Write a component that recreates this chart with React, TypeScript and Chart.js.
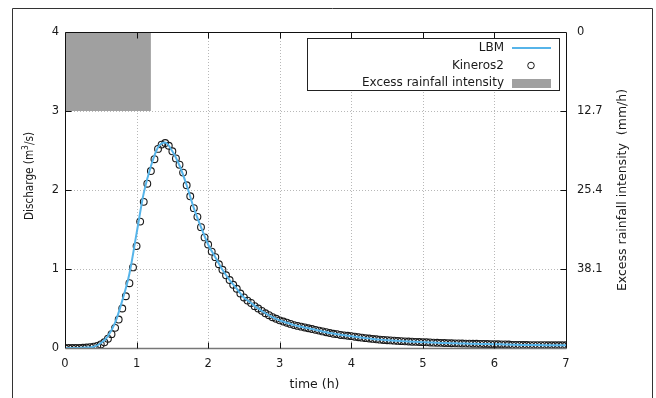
import React, { useEffect, useRef } from 'react';
import { Chart, registerables } from 'chart.js';

Chart.register(...registerables);

// ---------- data ----------
const KINEROS_TIME = [
  0.0, 0.05, 0.1, 0.15, 0.2, 0.25, 0.3, 0.35, 0.4, 0.45, 0.5, 0.55, 0.6, 0.65, 0.7, 0.75, 0.8, 0.85, 0.9, 0.95,
  1.0, 1.05, 1.1, 1.15, 1.2, 1.25, 1.3, 1.35, 1.4, 1.45, 1.5, 1.55, 1.6, 1.65, 1.7, 1.75, 1.8, 1.85, 1.9, 1.95,
  2.0, 2.05, 2.1, 2.15, 2.2, 2.25, 2.3, 2.35, 2.4, 2.45, 2.5, 2.55, 2.6, 2.65, 2.7, 2.75, 2.8, 2.85, 2.9, 2.95,
  3.0, 3.05, 3.1, 3.15, 3.2, 3.25, 3.3, 3.35, 3.4, 3.45, 3.5, 3.55, 3.6, 3.65, 3.7, 3.75, 3.8, 3.85, 3.9, 3.95,
  4.0, 4.05, 4.1, 4.15, 4.2, 4.25, 4.3, 4.35, 4.4, 4.45, 4.5, 4.55, 4.6, 4.65, 4.7, 4.75, 4.8, 4.85, 4.9, 4.95,
  5.0, 5.05, 5.1, 5.15, 5.2, 5.25, 5.3, 5.35, 5.4, 5.45, 5.5, 5.55, 5.6, 5.65, 5.7, 5.75, 5.8, 5.85, 5.9, 5.95,
  6.0, 6.05, 6.1, 6.15, 6.2, 6.25, 6.3, 6.35, 6.4, 6.45, 6.5, 6.55, 6.6, 6.65, 6.7, 6.75, 6.8, 6.85, 6.9, 6.95,
  7.0,
];
const KINEROS_Q = [
  0, 0, 0, 0, 0, 0.003, 0.006, 0.01, 0.017, 0.026, 0.045, 0.072, 0.118, 0.175, 0.255, 0.36, 0.5, 0.655, 0.82, 1.02,
  1.29, 1.6, 1.85, 2.08, 2.24, 2.39, 2.52, 2.575, 2.595, 2.56, 2.49, 2.4, 2.32, 2.22, 2.06, 1.92, 1.77, 1.66, 1.53, 1.4,
  1.31, 1.22, 1.15, 1.06, 0.99, 0.92, 0.86, 0.8, 0.75, 0.69, 0.64, 0.6, 0.57, 0.53, 0.5, 0.47, 0.44, 0.415, 0.39, 0.37,
  0.35, 0.335, 0.32, 0.305, 0.29, 0.28, 0.27, 0.26, 0.25, 0.24, 0.23, 0.22, 0.21, 0.2, 0.19, 0.18, 0.175, 0.165, 0.16, 0.155,
  0.15, 0.143, 0.137, 0.131, 0.125, 0.12, 0.115, 0.11, 0.106, 0.102, 0.099, 0.096, 0.093, 0.09, 0.087, 0.084, 0.082, 0.08, 0.078, 0.076,
  0.074, 0.072, 0.07, 0.068, 0.066, 0.065, 0.063, 0.062, 0.06, 0.059, 0.058, 0.057, 0.056, 0.055, 0.054, 0.053, 0.052, 0.051, 0.05, 0.049,
  0.048, 0.047, 0.046, 0.045, 0.044, 0.04, 0.039, 0.039, 0.038, 0.038, 0.037, 0.037, 0.036, 0.036, 0.036, 0.035, 0.035, 0.035, 0.034, 0.034,
  0.034,
];

const LBM_TIME = [
  0.0, 0.1, 0.2, 0.3, 0.4, 0.5, 0.6, 0.7, 0.8, 0.9,
  1.0, 1.1, 1.2, 1.3, 1.4, 1.5, 1.6, 1.7, 1.8, 1.9,
  2.0, 2.1, 2.2, 2.3, 2.4, 2.5, 2.6, 2.7, 2.8, 2.9,
  3.0, 3.1, 3.2, 3.3, 3.4, 3.5, 3.6, 3.7, 3.8, 3.9,
  4.0, 4.1, 4.2, 4.3, 4.4, 4.5, 4.6, 4.7, 4.8, 4.9,
  5.0, 5.1, 5.2, 5.3, 5.4, 5.5, 5.6, 5.7, 5.8, 5.9,
  6.0, 6.1, 6.2, 6.3, 6.4, 6.5, 6.6, 6.7, 6.8, 6.9,
  7.0,
];
const LBM_Q = [
  0, 0, 0, 0.005, 0.015, 0.06, 0.15, 0.32, 0.6, 0.94,
  1.45, 1.96, 2.3, 2.54, 2.6, 2.49, 2.31, 2.06, 1.77, 1.53,
  1.31, 1.15, 0.99, 0.86, 0.75, 0.64, 0.57, 0.5, 0.44, 0.39,
  0.35, 0.32, 0.29, 0.27, 0.25, 0.23, 0.21, 0.19, 0.175, 0.16,
  0.15, 0.137, 0.125, 0.115, 0.106, 0.099, 0.093, 0.087, 0.082, 0.078,
  0.074, 0.07, 0.066, 0.063, 0.06, 0.058, 0.056, 0.054, 0.052, 0.05,
  0.048, 0.046, 0.044, 0.04, 0.039, 0.038, 0.037, 0.036, 0.035, 0.034,
  0.034,
];

const RAIN_TIME = [0, 1.2];
const RAIN_INTENSITY = [12.7, 12.7];

const X_TICKS = [0, 1, 2, 3, 4, 5, 6, 7];
const Y_TICKS = [0, 1, 2, 3, 4];
const Y2_TICKS = [0, 12.7, 25.4, 38.1];
const Y2_TICK_LABELS = ['0', '12.7', '25.4', '38.1'];
const Y2_MAX = 50.8;

const LEGEND_LABELS = ['LBM', 'Kineros2', 'Excess rainfall intensity'];
const X_TITLE = 'time (h)';
const Y_TITLE_PARTS = ['Discharge (m', '3', '/s)'];
const Y2_TITLE = 'Excess rainfall intensity  (mm/h)';

// ---------- styles ----------
const FONT = '"DejaVu Sans", Verdana, sans-serif';
const LBM_COLOR = '#56b4e9';
const RAIN_COLOR = '#a0a0a0';
const TEXT_COLOR = '#1a1a1a';

const decor = {
  id: 'decor',
  beforeDatasetsDraw(chart: any) {
    const { ctx, chartArea: a, scales } = chart;
    ctx.save();
    ctx.strokeStyle = '#b8b8b8';
    ctx.lineWidth = 1;
    ctx.setLineDash([1, 2]);
    for (const v of X_TICKS) {
      if (v <= scales.x.min || v >= scales.x.max) continue;
      const x = Math.round(scales.x.getPixelForValue(v)) + 0.5;
      ctx.beginPath();
      ctx.moveTo(x, a.top);
      ctx.lineTo(x, a.bottom);
      ctx.stroke();
    }
    for (const v of Y_TICKS) {
      if (v <= scales.y.min || v >= scales.y.max) continue;
      const y = Math.round(scales.y.getPixelForValue(v)) + 0.5;
      ctx.beginPath();
      ctx.moveTo(a.left, y);
      ctx.lineTo(a.right, y);
      ctx.stroke();
    }
    ctx.restore();
  },
  afterDatasetsDraw(chart: any) {
    const { ctx, chartArea: a, scales } = chart;
    const L = Math.round(a.left) + 0.5;
    const R = Math.round(a.right) + 0.5;
    const T = Math.round(a.top) + 0.5;
    const B = Math.round(a.bottom) + 0.5;
    ctx.save();
    ctx.setLineDash([]);
    // plot border
    ctx.lineWidth = 1;
    ctx.strokeStyle = '#111';
    ctx.beginPath();
    ctx.moveTo(L, B);
    ctx.lineTo(L, T);
    ctx.lineTo(R, T);
    ctx.lineTo(R, B);
    ctx.stroke();
    ctx.strokeStyle = '#777';
    ctx.lineWidth = 1.5;
    ctx.beginPath();
    ctx.moveTo(L, B);
    ctx.lineTo(R, B);
    ctx.stroke();
    // inward ticks
    ctx.lineWidth = 1;
    ctx.strokeStyle = '#111';
    const TL = 6;
    for (const v of X_TICKS) {
      if (v <= scales.x.min || v >= scales.x.max) continue;
      const x = Math.round(scales.x.getPixelForValue(v)) + 0.5;
      ctx.beginPath();
      ctx.moveTo(x, B);
      ctx.lineTo(x, B - TL);
      ctx.moveTo(x, T);
      ctx.lineTo(x, T + TL);
      ctx.stroke();
    }
    for (const v of Y_TICKS) {
      if (v <= scales.y.min || v >= scales.y.max) continue;
      const y = Math.round(scales.y.getPixelForValue(v)) + 0.5;
      ctx.beginPath();
      ctx.moveTo(L, y);
      ctx.lineTo(L + TL, y);
      ctx.stroke();
    }
    for (const v of Y2_TICKS) {
      if (v <= scales.y2.min || v >= scales.y2.max) continue;
      const y = Math.round(scales.y2.getPixelForValue(v)) + 0.5;
      ctx.beginPath();
      ctx.moveTo(R, y);
      ctx.lineTo(R - TL, y);
      ctx.stroke();
    }

    // legend box
    const bx = 307.5, by = 38.5, bw = 252, bh = 52;
    ctx.fillStyle = '#fff';
    ctx.fillRect(bx, by, bw, bh);
    ctx.strokeStyle = '#222';
    ctx.strokeRect(bx, by, bw, bh);
    ctx.font = `12px ${FONT}`;
    ctx.fillStyle = TEXT_COLOR;
    ctx.textAlign = 'right';
    ctx.textBaseline = 'middle';
    const rows = [48, 65.5, 83];
    LEGEND_LABELS.forEach((t, i) => ctx.fillText(t, 504, rows[i]));
    // samples
    ctx.strokeStyle = LBM_COLOR;
    ctx.lineWidth = 2;
    ctx.beginPath();
    ctx.moveTo(512, rows[0]);
    ctx.lineTo(551, rows[0]);
    ctx.stroke();
    ctx.strokeStyle = '#1a1a1a';
    ctx.lineWidth = 1;
    ctx.beginPath();
    ctx.arc(531, rows[1], 3.3, 0, Math.PI * 2);
    ctx.stroke();
    ctx.fillStyle = RAIN_COLOR;
    ctx.fillRect(512, 79, 39, 9);

    // axis titles
    ctx.fillStyle = TEXT_COLOR;
    ctx.font = `12.5px ${FONT}`;
    ctx.textAlign = 'center';
    ctx.textBaseline = 'middle';
    ctx.fillText(X_TITLE, (a.left + a.right) / 2 - 1, 385);

    // right title
    ctx.save();
    ctx.translate(623, (a.top + a.bottom) / 2);
    ctx.rotate(-Math.PI / 2);
    ctx.fillText(Y2_TITLE, 0, 0);
    ctx.restore();

    // left title with superscript, fitted to the reference length
    ctx.save();
    ctx.translate(30, 176);
    ctx.rotate(-Math.PI / 2);
    ctx.textAlign = 'left';
    const f1 = `12.5px ${FONT}`;
    const f2 = `9px ${FONT}`;
    ctx.font = f1;
    const w1 = ctx.measureText(Y_TITLE_PARTS[0]).width;
    const w3 = ctx.measureText(Y_TITLE_PARTS[2]).width;
    ctx.font = f2;
    const w2 = ctx.measureText(Y_TITLE_PARTS[1]).width;
    const total = w1 + w2 + w3;
    const k = Math.min(1, 88 / total);
    ctx.scale(k, 1);
    const x0 = -total / 2;
    ctx.font = f1;
    ctx.fillText(Y_TITLE_PARTS[0], x0, 0);
    ctx.font = f2;
    ctx.fillText(Y_TITLE_PARTS[1], x0 + w1, -4);
    ctx.font = f1;
    ctx.fillText(Y_TITLE_PARTS[2], x0 + w1 + w2, 0);
    ctx.restore();

    // outer frame
    ctx.strokeStyle = '#333';
    ctx.lineWidth = 1;
    ctx.beginPath();
    ctx.moveTo(12.5, 420);
    ctx.lineTo(12.5, 8.5);
    ctx.lineTo(652.5, 8.5);
    ctx.lineTo(652.5, 420);
    ctx.stroke();
    ctx.restore();
  },
};

export default function App() {
  const ref = useRef<HTMLCanvasElement | null>(null);

  useEffect(() => {
    if (!ref.current) return;
    const chart = new Chart(ref.current, {
      type: 'line',
      data: {
        datasets: [
          {
            label: LEGEND_LABELS[0],
            data: LBM_TIME.map((t, i) => ({ x: t, y: LBM_Q[i] })),
            borderColor: LBM_COLOR,
            backgroundColor: LBM_COLOR,
            borderWidth: 2,
            pointRadius: 0,
            cubicInterpolationMode: 'monotone',
            yAxisID: 'y',
            fill: false,
          },
          {
            label: LEGEND_LABELS[1],
            data: KINEROS_TIME.map((t, i) => ({ x: t, y: KINEROS_Q[i] })),
            showLine: false,
            pointRadius: 3.4,
            pointBorderWidth: 1.1,
            pointBorderColor: '#1a1a1a',
            pointBackgroundColor: 'rgba(0,0,0,0)',
            borderColor: '#1a1a1a',
            yAxisID: 'y',
            fill: false,
          },
          {
            label: LEGEND_LABELS[2],
            data: RAIN_TIME.map((t, i) => ({ x: t, y: RAIN_INTENSITY[i] })),
            borderColor: RAIN_COLOR,
            backgroundColor: RAIN_COLOR,
            borderWidth: 0,
            pointRadius: 0,
            yAxisID: 'y2',
            fill: { value: 0 },
          },
        ],
      },
      options: {
        animation: false,
        responsive: false,
        devicePixelRatio: 1,
        layout: { padding: { top: 32, left: 0, right: 0, bottom: 0 } },
        plugins: { legend: { display: false }, tooltip: { enabled: false } },
        scales: {
          x: {
            type: 'linear',
            min: 0,
            max: 7,
            position: 'bottom',
            afterBuildTicks: (s: any) => {
              s.ticks = X_TICKS.map((v) => ({ value: v }));
            },
            afterFit: (s: any) => {
              s.height = 50;
            },
            ticks: {
              font: { family: FONT, size: 11.5 },
              color: TEXT_COLOR,
              padding: 9,
              maxRotation: 0,
              callback: (v: any) => String(v),
            },
            grid: { display: false, drawTicks: false },
            border: { display: false },
          },
          y: {
            type: 'linear',
            min: 0,
            max: 4,
            position: 'left',
            afterBuildTicks: (s: any) => {
              s.ticks = Y_TICKS.map((v) => ({ value: v }));
            },
            afterFit: (s: any) => {
              s.width = 65;
            },
            ticks: {
              font: { family: FONT, size: 11.5 },
              color: TEXT_COLOR,
              padding: 6,
              callback: (v: any) => String(v),
            },
            grid: { display: false, drawTicks: false },
            border: { display: false },
          },
          y2: {
            type: 'linear',
            min: 0,
            max: Y2_MAX,
            reverse: true,
            position: 'right',
            afterBuildTicks: (s: any) => {
              s.ticks = Y2_TICKS.map((v) => ({ value: v }));
            },
            afterFit: (s: any) => {
              s.width = 90;
            },
            ticks: {
              font: { family: FONT, size: 11.5 },
              color: TEXT_COLOR,
              padding: 11,
              callback: (v: any) => {
                const i = Y2_TICKS.indexOf(v);
                return i >= 0 ? Y2_TICK_LABELS[i] : '';
              },
            },
            grid: { display: false, drawTicks: false },
            border: { display: false },
          },
        },
      },
      plugins: [decor],
    } as any);
    return () => chart.destroy();
  }, []);

  return (
    <div style={{ position: 'absolute', left: 0, top: 0, width: 656, height: 398, background: '#fff' }}>
      <canvas ref={ref} width={656} height={398} style={{ display: 'block' }} />
    </div>
  );
}
